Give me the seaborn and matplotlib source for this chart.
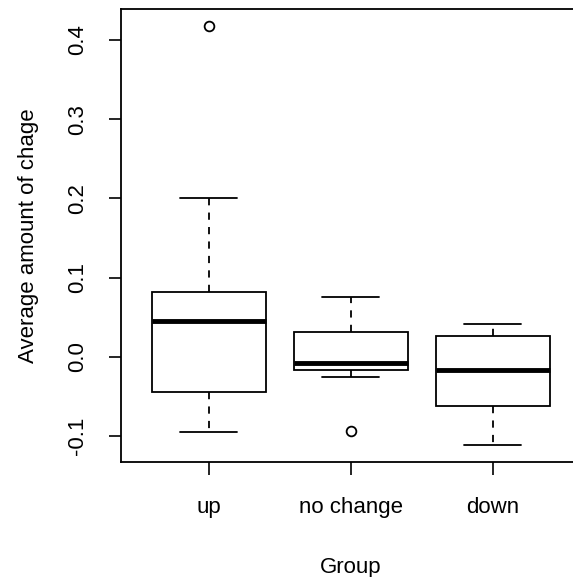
import pandas as pd
import matplotlib
matplotlib.use("Agg")
import matplotlib.pyplot as plt
import seaborn as sns

# ---------------------------
# Data
# ---------------------------
groups = ["up", "no change", "down"]
up_vals = [-0.0946, -0.070, -0.0443, 0.010, 0.0448, 0.060, 0.0817, 0.2004, 0.417]
nochange_vals = [-0.0937, -0.0259, -0.0166, -0.012, -0.0074, 0.010, 0.0314, 0.050, 0.0762]
down_vals = [-0.111, -0.090, -0.0623, -0.040, -0.0166, 0.010, 0.0259, 0.035, 0.0411]
y_ticks = [-0.1, 0.0, 0.1, 0.2, 0.3, 0.4]
y_ticklabels = ["-0.1", "0.0", "0.1", "0.2", "0.3", "0.4"]

df = pd.DataFrame({
    "Group": ["up"] * len(up_vals) + ["no change"] * len(nochange_vals) + ["down"] * len(down_vals),
    "value": up_vals + nochange_vals + down_vals,
})

# ---------------------------
# Style
# ---------------------------
sns.set_style("ticks")
plt.rcParams["font.family"] = ["Liberation Sans", "DejaVu Sans"]
plt.rcParams["font.size"] = 16
plt.rcParams["text.color"] = "black"
plt.rcParams["axes.labelcolor"] = "black"
plt.rcParams["xtick.color"] = "black"
plt.rcParams["ytick.color"] = "black"

fig = plt.figure(figsize=(5.73, 5.77), dpi=100)
ax = fig.add_axes([0.2105, 0.1993, 1.014 - 0.2105, 0.9844 - 0.1993])

sns.boxplot(
    data=df, x="Group", y="value", order=groups,
    color="white", linecolor="black", linewidth=1.3, width=0.8,
    whiskerprops={"linestyle": (0, (4, 4))},
    medianprops={"linewidth": 3.5, "color": "black"},
    flierprops={"marker": "o", "markerfacecolor": "none", "markeredgecolor": "black",
                "markersize": 7, "markeredgewidth": 1.3},
    ax=ax,
)

ax.set_xlim(-0.62, 2.62)
ax.set_ylim(-0.1326, 0.439)
ax.set_yticks(y_ticks)
ax.set_yticklabels(y_ticklabels, rotation=90, va="center")
ax.tick_params(axis="both", left=True, bottom=True, length=9, width=1.2,
               colors="black", labelsize=16, direction="out")
ax.tick_params(axis="y", pad=14.5)
ax.tick_params(axis="x", pad=16.5)
for side in ["left", "right", "top", "bottom"]:
    ax.spines[side].set_visible(True)
    ax.spines[side].set_color("black")
    ax.spines[side].set_linewidth(1.3)

ax.set_xlabel("Group", fontsize=16, labelpad=28)
ax.set_ylabel("Average amount of chage", fontsize=16, labelpad=20.5)

fig.savefig("out.png", dpi=100)
